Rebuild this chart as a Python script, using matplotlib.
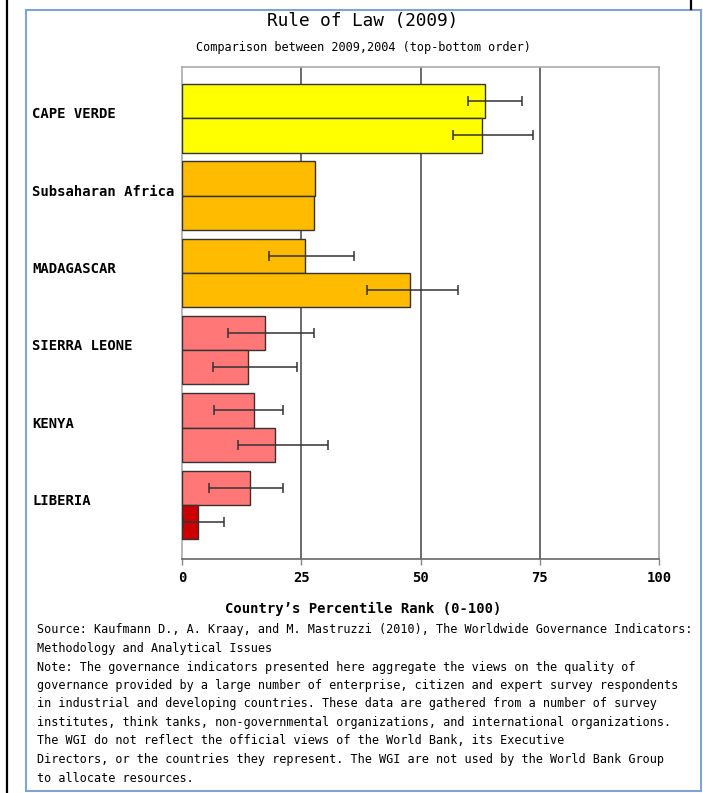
import matplotlib
matplotlib.use("Agg")
import matplotlib.pyplot as plt
import numpy as np
from matplotlib.patches import Rectangle
from matplotlib.lines import Line2D
from matplotlib.transforms import blended_transform_factory

# ---- data -------------------------------------------------------------
countries = ["CAPE VERDE", "Subsaharan Africa", "MADAGASCAR",
             "SIERRA LEONE", "KENYA", "LIBERIA"]
rank_2009 = [63.6, 27.9, 25.8, 17.5, 15.0, 14.3]
rank_2004 = [62.8, 27.6, 47.9, 13.8, 19.6, 3.3]
low_2009 = [60.0, np.nan, 18.2, 9.7, 6.8, 5.6]
high_2009 = [71.2, np.nan, 36.0, 27.7, 21.1, 21.1]
low_2004 = [56.8, np.nan, 38.8, 6.6, 11.7, 0.3]
high_2004 = [73.5, np.nan, 57.8, 24.1, 30.7, 8.9]
colors_2009 = ["#FFFF00", "#FFBB00", "#FFBB00", "#FF7777", "#FF7777", "#FF7777"]
colors_2004 = ["#FFFF00", "#FFBB00", "#FFBB00", "#FF7777", "#FF7777", "#CC0000"]
x_ticks = [0, 25, 50, 75, 100]

title = "Rule of Law (2009)"
subtitle = "Comparison between 2009,2004 (top-bottom order)"
x_label = "Country\u2019s Percentile Rank (0-100)"
notes = [
    "Source: Kaufmann D., A. Kraay, and M. Mastruzzi (2010), The Worldwide Governance Indicators:",
    "Methodology and Analytical Issues",
    "Note: The governance indicators presented here aggregate the views on the quality of",
    "governance provided by a large number of enterprise, citizen and expert survey respondents",
    "in industrial and developing countries. These data are gathered from a number of survey",
    "institutes, think tanks, non-governmental organizations, and international organizations.",
    "The WGI do not reflect the official views of the World Bank, its Executive",
    "Directors, or the countries they represent. The WGI are not used by the World Bank Group",
    "to allocate resources.",
]

# ---- figure -----------------------------------------------------------
W, H = 703, 793
fig = plt.figure(figsize=(W / 100, H / 100), dpi=100)
fig.patch.set_facecolor("white")
MONO = ["DejaVu Sans Mono"]


def fx(px):
    return px / W


def fy(py):
    return 1 - py / H


# page decorations: black rules and blue panel border
fig.add_artist(Line2D([fx(7), fx(7)], [0, 1], color="black", lw=1.6,
                      transform=fig.transFigure))
fig.add_artist(Line2D([fx(691), fx(691)], [fy(0), fy(9)], color="black",
                      lw=1.6, transform=fig.transFigure))
fig.add_artist(Rectangle((fx(26), fy(791)), fx(701) - fx(26), fy(10) - fy(791),
                         fill=False, edgecolor="#7FA3D6", lw=1.5,
                         transform=fig.transFigure))

# plot area
left, right, top, bottom = 182, 659, 67, 559
ax = fig.add_axes([fx(left), fy(bottom), fx(right) - fx(left), fy(top) - fy(bottom)])

n = len(countries)
centers = np.arange(n)
bh = 0.443

ax.barh(centers - bh / 2, rank_2009, height=bh, color=colors_2009,
        edgecolor="#333333", linewidth=1.0, zorder=3)
ax.barh(centers + bh / 2, rank_2004, height=bh, color=colors_2004,
        edgecolor="#333333", linewidth=1.0, zorder=3)

for yy, val, lo, hi in [(centers - bh / 2, rank_2009, low_2009, high_2009),
                        (centers + bh / 2, rank_2004, low_2004, high_2004)]:
    lo = np.array(lo)
    hi = np.array(hi)
    mid = (lo + hi) / 2
    ax.errorbar(mid, yy, xerr=(hi - lo) / 2, fmt="none", ecolor="#333333",
                elinewidth=1.1, capsize=3.3, capthick=1.1, zorder=4)

ax.set_xlim(0, 100)
ax.set_ylim(5.70, -0.663)
ax.set_yticks([])
ax.set_xticks(x_ticks)
ax.set_xticklabels([str(t) for t in x_ticks], family=MONO,
                   fontsize=10, fontweight="bold")
ax.tick_params(axis="x", length=4, width=1, color="#888888", pad=5)

for t in x_ticks[1:-1]:
    ax.axvline(t, color="#444444", lw=1.1, zorder=1)

for side in ["left", "top", "right"]:
    ax.spines[side].set_color("#AAAAAA")
    ax.spines[side].set_linewidth(1.2)
ax.spines["bottom"].set_color("#666666")
ax.spines["bottom"].set_linewidth(1.2)

# category labels, left-aligned at the panel edge
trans = blended_transform_factory(fig.transFigure, ax.transData)
for i, name in enumerate(countries):
    ax.text(fx(32), i - 0.05, name, transform=trans, ha="left", va="center",
            family=MONO, fontsize=10, fontweight="bold", clip_on=False)

# titles
cx = fx(363)
fig.text(cx, fy(21), title, ha="center", va="center", family=MONO, fontsize=12.8)
fig.text(cx, fy(48), subtitle, ha="center", va="center", family=MONO, fontsize=8.6)
fig.text(cx, fy(609), x_label, ha="center", va="center", family=MONO,
         fontsize=10, fontweight="bold")

# source and notes
for k, line in enumerate(notes):
    fig.text(fx(37), fy(630 + 18.5 * k), line, ha="left", va="center",
             family=MONO, fontsize=8.5)

fig.savefig("out.png", dpi=100)
